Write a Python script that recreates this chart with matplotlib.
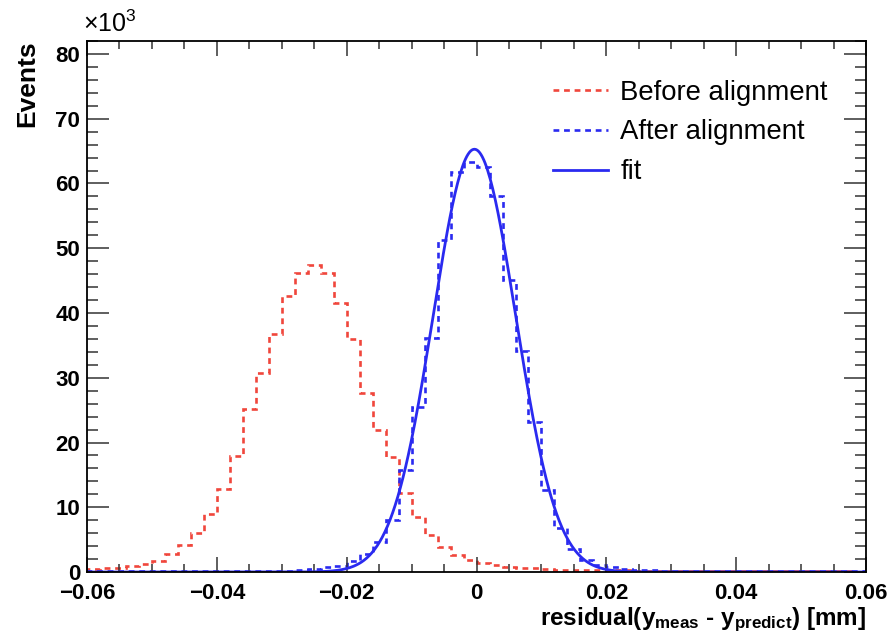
import numpy as np
import matplotlib
matplotlib.use("Agg")
import matplotlib.pyplot as plt
from matplotlib.ticker import MultipleLocator

plt.rcParams.update({
    'font.family': ['Liberation Sans', 'DejaVu Sans'],
    'axes.unicode_minus': True,
})

# 60 bins from -0.06 to 0.06 mm, counts in units of 10^3 events
x_lo, x_hi, n_bins = -0.06, 0.06, 60

before = [0.46, 0.57, 0.66, 0.93, 1.24, 1.75, 2.8, 4.1, 6.0, 8.96,
          12.8, 17.9, 25.2, 30.8, 36.8, 42.7, 46.1, 47.4, 46.1, 41.6,
          36.0, 27.7, 22.0, 17.7, 12.2, 8.5, 5.7, 3.9, 2.6, 1.85,
          1.45, 1.08, 0.82, 0.67, 0.57, 0.41, 0.35, 0.32, 0.30, 0.28,
          0.26, 0.24, 0.22, 0.20, 0.19, 0.18, 0.17, 0.16, 0.15, 0.15,
          0.14, 0.13, 0.12, 0.12, 0.11, 0.10, 0.10, 0.09, 0.09, 0.08]

after = [0.10, 0.10, 0.10, 0.10, 0.10, 0.12, 0.12, 0.12, 0.13, 0.13,
         0.14, 0.15, 0.16, 0.18, 0.20, 0.22, 0.25, 0.45, 0.70, 1.0,
         1.7, 2.8, 4.6, 8.0, 15.8, 25.5, 36.2, 51.3, 61.8, 63.3,
         62.6, 58.1, 45.1, 34.2, 23.2, 12.7, 6.75, 3.6, 1.9, 1.1,
         0.70, 0.50, 0.35, 0.25, 0.20, 0.15, 0.12, 0.10, 0.10, 0.10,
         0.10, 0.10, 0.10, 0.10, 0.10, 0.10, 0.10, 0.10, 0.10, 0.10]

red = '#f0463c'
blue = '#2a2af0'

edges = np.linspace(x_lo, x_hi, n_bins + 1)
centers = 0.5 * (edges[:-1] + edges[1:])
before = np.array(before)
after = np.array(after)

# gaussian least-squares fit of the aligned residuals (Gauss-Newton)
amp, mu, sigma = after.max(), centers[np.argmax(after)], 0.006
for _ in range(50):
    g = np.exp(-0.5 * ((centers - mu) / sigma) ** 2)
    model = amp * g
    J = np.column_stack([g,
                         model * (centers - mu) / sigma**2,
                         model * (centers - mu) ** 2 / sigma**3])
    step = np.linalg.lstsq(J, after - model, rcond=None)[0]
    amp, mu, sigma = amp + step[0], mu + step[1], sigma + step[2]

xf = np.linspace(x_lo, x_hi, 600)
yf = amp * np.exp(-0.5 * ((xf - mu) / sigma) ** 2)

fig = plt.figure(figsize=(8.92, 6.37), dpi=100)
ax = fig.add_axes([0.0975, 0.102, 0.8735, 0.8336])

ax.stairs(before, edges, color=red, lw=1.9, linestyle=(0, (2.2, 1.8)),
          label='Before alignment')
ax.stairs(after, edges, color=blue, lw=1.9, linestyle=(0, (2.2, 1.8)),
          label='After alignment')
ax.plot(xf, yf, color=blue, lw=2.0, label='fit')

ax.set_xlim(x_lo, x_hi)
ax.set_ylim(0, 82)

ax.xaxis.set_minor_locator(MultipleLocator(0.005))
ax.yaxis.set_major_locator(MultipleLocator(10))
ax.yaxis.set_minor_locator(MultipleLocator(2))
ax.set_xticks([-0.06, -0.04, -0.02, 0, 0.02, 0.04, 0.06])
ax.set_xticklabels(['\u22120.06', '\u22120.04', '\u22120.02', '0', '0.02', '0.04', '0.06'])

ax.tick_params(axis='both', which='both', direction='in', top=True, right=True,
               color='#333333', width=1.1)
ax.tick_params(axis='x', which='major', length=11, pad=8)
ax.tick_params(axis='x', which='minor', length=5.5)
ax.tick_params(axis='y', which='major', length=16, pad=5)
ax.tick_params(axis='y', which='minor', length=8)
for lab in ax.get_xticklabels() + ax.get_yticklabels():
    lab.set_fontsize(16)
    lab.set_fontweight('bold')
for sp in ax.spines.values():
    sp.set_linewidth(1.3)

fig.text(0.030, 0.937, 'Events', rotation=90, ha='center', va='top',
         fontsize=19, fontweight='bold')
plt.rcParams['mathtext.default'] = 'regular'
fig.text(0.093, 0.942, r'$\times$10$^{3}$', fontsize=18, ha='left', va='bottom')
fig.text(0.971, 0.004, r'residual(y$_{\mathregular{meas}}$ - y$_{\mathregular{predict}}$) [mm]',
         ha='right', va='bottom', fontsize=17.5, fontweight='bold')

leg = ax.legend(loc='upper left', bbox_to_anchor=(0.584, 0.948), frameon=False,
                fontsize=19.8, handlelength=2.0, handletextpad=0.45,
                labelspacing=0.5, borderaxespad=0)

fig.savefig('out.png', dpi=100)
